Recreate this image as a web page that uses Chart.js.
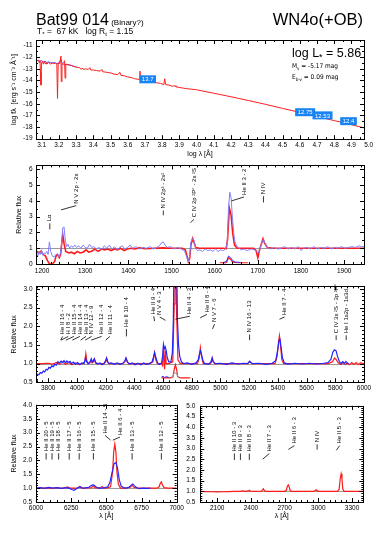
<!DOCTYPE html>
<html>
<head>
<meta charset="utf-8">
<script src="https://cdn.jsdelivr.net/npm/chart.js@4.4.1/dist/chart.umd.min.js"></script>
<style>
  body { margin: 0; background: #fff; width: 382px; height: 541px; position: relative; overflow: hidden; }
  canvas { position: absolute; }
</style>
</head>
<body>
<script>
// ---- SED panel (log lambda vs log f_lambda) ----
const sedXTicks = [3.1, 3.2, 3.3, 3.4, 3.5, 3.6, 3.7, 3.8, 3.9, 4.0, 4.1, 4.2, 4.3, 4.4, 4.5, 4.6, 4.7, 4.8, 4.9, 5.0];
const sedYTicks = [-11, -12, -13, -14, -15, -16, -17, -18, -19];
const sedModel = [
  [3.067,-12.2],[3.075,-12.3],[3.08,-12.25],[3.085,-12.45],[3.09,-12.3],[3.093,-13.3],[3.096,-14.4],[3.099,-12.5],
  [3.105,-12.35],[3.11,-12.6],[3.115,-12.4],[3.12,-12.55],[3.125,-12.45],[3.13,-12.6],[3.14,-12.45],[3.15,-12.6],
  [3.16,-12.5],[3.17,-12.55],[3.18,-12.5],[3.188,-12.6],[3.192,-15.55],[3.196,-12.5],[3.205,-12.55],[3.212,-11.9],
  [3.214,-14.1],[3.218,-12.6],[3.228,-12.45],[3.233,-12.3],[3.236,-13.8],[3.24,-12.6],[3.26,-12.65],[3.28,-12.75],
  [3.3,-12.85],[3.32,-12.9],[3.33,-13.05],[3.335,-12.95],[3.345,-13.05],[3.355,-13.0],[3.37,-13.05],[3.38,-12.9],
  [3.385,-13.1],[3.4,-13.1],[3.42,-13.15],[3.44,-13.2],[3.45,-13.05],[3.455,-13.25],[3.48,-13.3],[3.5,-13.35],
  [3.52,-13.45],[3.54,-13.5],[3.555,-13.3],[3.56,-13.55],[3.58,-13.6],[3.6,-13.7],[3.62,-13.75],[3.64,-13.85],
  [3.66,-13.9],[3.668,-13.9],[3.671,-13.2],[3.674,-13.9],[3.69,-13.95],[3.71,-14.0],[3.73,-14.05],[3.75,-14.15],
  [3.77,-14.2],[3.79,-14.25],[3.81,-14.35],[3.815,-13.85],[3.82,-14.35],[3.84,-14.4],[3.86,-14.5],[3.875,-14.45],
  [3.88,-14.55],[3.9,-14.6],[3.92,-14.65],[3.94,-14.7],[4.0,-14.8],[4.1,-15.1],[4.2,-15.4],[4.3,-15.72],
  [4.4,-16.05],[4.5,-16.4],[4.6,-16.75],[4.7,-17.1],[4.8,-17.45],[4.9,-17.8],[4.973,-18.08]
];
const sedObserved = [
  [3.067,-12.25],[3.08,-12.3],[3.09,-12.35],[3.1,-12.3],[3.11,-12.4],[3.12,-12.35],[3.13,-12.45],[3.14,-12.4],
  [3.15,-12.45],[3.16,-12.5],[3.17,-12.45],[3.18,-12.5],[3.19,-12.55],[3.2,-12.5],[3.212,-12.2],[3.22,-12.6],
  [3.23,-12.6],[3.25,-12.65],[3.27,-12.7],[3.29,-12.8],[3.3,-12.85]
];
const photX = [3.716, 4.631, 4.732, 4.883];
const photY = [-13.9, -16.73, -17.0, -17.5];
const photMag = ['13.7', '12.75', '12.53', '12.4'];

// ---- UV panel ----
const uvXTicks = [1200, 1300, 1400, 1500, 1600, 1700, 1800, 1900];
const uvYTicks = [0, 1, 2, 3, 4, 5, 6];
const uvObserved = [
  [1186,0.8],[1190,0.5],[1193,0.75],[1196,0.6],[1199,0.9],[1202,0.55],[1205,0.7],[1208,0.65],[1211,0.8],[1214,0.6],
  [1217,1.4],[1220,0.8],[1224,0.5],[1228,0.45],[1232,0.6],[1236,0.65],[1239,0.45],[1242,0.6],[1245,1.2],[1248,2.3],
  [1251,2.35],[1254,1.5],[1257,1.1],[1260,1.25],[1264,1.0],[1268,1.15],[1272,1.05],[1276,1.2],[1280,1.05],[1285,1.15],
  [1290,1.0],[1295,1.2],[1300,1.05],[1305,1.0],[1310,1.25],[1315,1.05],[1320,1.1],[1326,0.95],[1332,1.05],[1338,0.9],
  [1344,1.15],[1350,1.0],[1356,1.2],[1362,0.95],[1368,1.1],[1374,0.9],[1380,1.05],[1386,1.15],[1392,0.95],[1398,1.05],
  [1404,1.2],[1410,1.0],[1418,1.1],[1426,0.95],[1434,1.05],[1442,1.0],[1450,1.1],[1458,0.95],[1466,1.05],[1472,1.15],
  [1477,1.35],[1481,1.4],[1485,1.2],[1490,1.05],[1498,1.1],[1506,0.95],[1514,1.05],[1522,0.95],[1530,0.85],[1535,0.45],
  [1539,0.15],[1542,0.5],[1545,1.4],[1549,1.65],[1552,1.5],[1556,1.0],[1560,0.85],[1566,0.9],[1572,0.8],[1578,0.95],
  [1584,0.85],[1590,0.9],[1596,0.8],[1602,0.95],[1608,0.8],[1614,0.9],[1620,0.85],[1625,0.95],[1629,1.3],[1632,3.5],
  [1635,4.55],[1638,4.2],[1641,3.0],[1644,2.0],[1647,1.4],[1651,1.15],[1656,1.0],[1662,0.9],[1668,0.95],[1674,0.85],
  [1680,0.9],[1686,0.95],[1692,0.9],[1697,0.8],[1701,0.7],[1705,0.95],[1710,1.4],[1713,1.55],[1717,1.3],[1722,1.05],
  [1730,0.95],[1738,1.05],[1746,0.95],[1754,1.0],[1762,1.1],[1770,0.95],[1778,1.05],[1786,0.95],[1794,1.1],[1800,0.85],
  [1806,1.0],[1814,1.05],[1822,0.95],[1830,1.1],[1838,0.95],[1846,1.05],[1854,1.0],[1862,1.1],[1870,0.95],[1878,1.05],
  [1886,1.0],[1894,1.1],[1902,1.0],[1910,1.05],[1918,1.1],[1926,1.05],[1934,1.15],[1940,1.1],[1946,1.1]
];
const uvModel = [
  [1186,0.85],[1192,0.7],[1197,0.8],[1203,0.6],[1208,0.5],[1213,0.2],[1217,0.02],[1224,0.0],[1229,0.15],[1233,0.55],
  [1236,0.6],[1240,0.4],[1243,0.6],[1246,1.4],[1248,1.85],[1251,1.3],[1255,0.8],[1262,0.7],[1268,0.75],[1275,0.65],
  [1282,0.8],[1288,0.7],[1295,0.75],[1302,0.9],[1308,0.75],[1315,0.8],[1322,0.95],[1330,0.8],[1338,0.95],[1345,0.9],
  [1352,0.95],[1360,0.85],[1368,0.95],[1375,0.9],[1382,1.0],[1390,0.85],[1398,0.95],[1405,1.0],[1415,0.95],[1425,1.02],
  [1440,0.97],[1460,1.0],[1480,1.02],[1500,1.0],[1525,1.0],[1532,0.9],[1536,0.5],[1539,0.15],[1542,0.35],[1545,1.2],
  [1549,1.62],[1552,1.4],[1556,1.05],[1565,1.0],[1620,1.0],[1627,0.97],[1630,1.6],[1634,3.55],[1638,3.1],[1642,1.9],
  [1646,1.2],[1652,1.0],[1690,1.0],[1696,0.85],[1700,0.4],[1704,0.9],[1712,1.6],[1716,1.3],[1722,1.05],[1735,1.0],
  [1946,1.0]
];
const uvInsetModel = [[1612,0.08],[1625,0.08],[1628,0.12],[1632,0.4],[1637,0.3],[1641,0.15],[1646,0.1],[1660,0.08],[1677,0.08]];
const uvInsetObserved = [[1620,0.1],[1627,0.15],[1632,0.5],[1637,0.4],[1642,0.2],[1648,0.12],[1660,0.1]];
const uvLineX = [1218, 1244, 1481, 1544, 1639, 1713];
const uvTextX = [1218, 1279, 1481, 1552, 1668, 1713];
const uvLineY = [2.2, 3.43, 3.09, 2.62, 4.0, 3.9];
const uvTextY = [2.58, 3.7, 3.39, 2.83, 4.25, 4.3];
const uvNames = ['Lα', 'N V 2p - 2s', 'N IV 2p³ - 2s²', 'C IV 2p ²P° - 2s ²S', 'He II 3 - 2', 'N IV'];

// ---- optical panel ----
const optXTicks = [3800, 4000, 4200, 4400, 4600, 4800, 5000, 5200, 5400, 5600, 5800, 6000];
const optYTicks = [0.5, 1.0, 1.5, 2.0, 2.5, 3.0];
const optObserved = [
  [3715,0.69],[3725,0.72],[3735,0.7],[3745,0.76],[3755,0.74],[3766,0.8],[3776,0.78],[3786,0.85],[3795,0.83],[3805,0.9],
  [3815,0.88],[3825,0.94],[3835,0.92],[3847,0.98],[3857,0.96],[3868,1.05],[3878,1.02],[3890,1.07],[3900,1.03],[3910,1.08],
  [3920,1.02],[3930,1.07],[3940,1.03],[3952,1.06],[3962,1.0],[3975,1.04],[3990,0.98],[4005,1.03],[4020,0.97],[4035,1.02],
  [4050,1.0],[4060,1.15],[4068,1.05],[4080,1.0],[4092,1.05],[4100,1.13],[4106,1.05],[4114,1.08],[4121,1.13],[4130,1.03],
  [4145,0.99],[4160,1.02],[4175,0.97],[4190,1.01],[4200,1.08],[4207,1.15],[4215,1.05],[4225,1.0],[4240,1.02],[4260,0.98],
  [4280,1.02],[4300,0.98],[4320,1.01],[4333,1.07],[4342,1.15],[4352,1.05],[4365,0.99],[4385,1.02],[4405,0.97],[4425,1.01],
  [4445,0.97],[4465,1.02],[4485,0.98],[4505,1.0],[4522,1.03],[4532,1.15],[4541,1.3],[4551,1.15],[4562,1.02],[4575,0.98],
  [4590,1.02],[4597,1.2],[4603,1.52],[4609,1.4],[4615,1.45],[4622,1.35],[4630,1.15],[4640,1.05],[4655,1.05],[4665,1.3],
  [4672,2.2],[4678,4.5],[4688,5.0],[4695,4.0],[4700,2.2],[4708,1.5],[4716,1.2],[4728,1.05],[4745,1.0],[4770,1.02],
  [4800,0.98],[4830,1.02],[4845,1.1],[4853,1.25],[4860,1.35],[4868,1.25],[4878,1.08],[4890,1.0],[4915,0.99],[4932,1.03],
  [4942,1.15],[4950,1.05],[4965,1.0],[5000,1.01],[5040,0.98],[5080,1.02],[5120,0.99],[5160,1.01],[5190,1.0],[5197,1.04],
  [5204,1.06],[5212,1.03],[5225,1.0],[5270,1.01],[5320,0.98],[5360,1.01],[5385,1.08],[5398,1.35],[5408,1.62],[5415,1.65],
  [5422,1.45],[5432,1.15],[5445,1.02],[5470,0.99],[5520,1.01],[5570,0.99],[5620,1.01],[5670,0.99],[5720,1.01],[5750,1.03],
  [5770,1.12],[5782,1.3],[5793,1.37],[5805,1.35],[5815,1.2],[5828,1.05],[5840,1.0],[5851,1.05],[5862,1.0],[5874,1.06],
  [5885,1.01],[5895,1.0]
];
const optModel = [
  [3715,1.0],[3760,1.0],[3800,1.01],[3830,0.99],[3860,1.03],[3880,0.98],[3900,1.04],[3920,0.98],[3945,1.03],[3965,0.97],
  [3990,1.02],[4010,0.99],[4040,1.0],[4055,1.05],[4062,1.27],[4068,1.1],[4075,1.0],[4090,1.02],[4100,1.1],[4106,1.02],
  [4115,1.05],[4122,1.12],[4130,1.02],[4150,1.0],[4190,1.0],[4200,1.05],[4206,1.15],[4212,1.05],[4222,1.0],[4320,1.0],
  [4335,1.05],[4342,1.15],[4350,1.05],[4360,1.0],[4500,1.0],[4530,1.05],[4541,1.3],[4550,1.1],[4560,1.0],[4590,1.0],
  [4597,0.95],[4603,1.45],[4607,1.1],[4611,0.85],[4616,1.35],[4622,1.0],[4640,1.0],[4668,1.05],[4678,2.6],[4683,4.0],
  [4689,4.0],[4694,2.4],[4704,1.1],[4720,1.0],[4840,1.0],[4852,1.15],[4860,1.43],[4868,1.2],[4880,1.0],[4930,1.0],
  [4938,1.05],[4943,1.15],[4949,1.05],[4960,1.0],[5190,1.0],[5197,1.03],[5203,1.06],[5210,1.03],[5220,1.0],[5380,1.0],
  [5395,1.2],[5405,1.6],[5411,1.75],[5418,1.5],[5428,1.1],[5440,1.0],[5750,1.0],[5780,1.05],[5795,1.15],[5808,1.1],
  [5820,1.02],[5840,0.98],[5855,1.04],[5870,0.98],[5885,1.02],[5900,0.97],[5915,1.03],[5930,0.98],[5945,1.03],[5960,0.97],
  [5975,1.02],[6000,1.0]
];
const optInsetModel = [[4590,0.62],[4650,0.62],[4670,0.65],[4678,0.85],[4686,0.97],[4694,0.85],[4702,0.65],[4720,0.62],[4790,0.62]];
const optInsetObserved = [[4590,0.64],[4600,0.66],[4610,0.63],[4625,0.65],[4640,0.63]];
const optInsetGrey = [[4660,0.62],[4680,0.75],[4690,0.75],[4710,0.62]];
const optLineX = [3887, 3889, 3923, 3968, 4026, 4058, 4100, 4200, 4345, 4541, 4617, 4686, 4859, 4945, 5203, 5411, 5806, 5876];
const optTextX = [3901, 3940, 3979, 4021, 4063, 4102, 4172, 4230, 4345, 4535, 4577, 4786, 4906, 4959, 5203, 5447, 5806, 5876];
const optLineY = [1.63, 1.63, 1.63, 1.63, 1.63, 1.63, 1.63, 1.63, 1.73, 2.14, 2.16, 2.19, 2.23, 1.93, 1.63, 2.19, 1.63, 1.63];
const optTextY = [1.73, 1.73, 1.73, 1.73, 1.73, 1.73, 1.73, 1.73, 1.93, 2.27, 2.25, 2.27, 2.32, 2.06, 1.78, 2.25, 1.76, 1.76];
const optNames = ['He II 16 - 4', 'H I 8 - 2', 'He II 15 - 4', 'He II 14 - 4', 'He II 13 - 4', 'N IV 12 - 9',
  'He II 12 - 4', 'He II 11 - 4', 'He II 10 - 4', 'He II 9 - 4', 'N V 4 - 3', 'He II 4 - 3', 'He II 8 - 4',
  'N V 7 - 6', 'N IV 16 - 13', 'He II 7 - 4', 'C IV 3s ²S - 3p ²P°', 'He I 1s2p - 1s3d'];

// ---- red panel ----
const redXTicks = [6000, 6250, 6500, 6750, 7000];
const redYTicks = [0.5, 1.0, 1.5, 2.0, 2.5, 3.0, 3.5, 4.0];
const redObserved = [
  [6000,1.0],[6030,1.02],[6060,0.99],[6090,1.03],[6120,1.0],[6150,1.02],[6180,0.99],[6210,1.02],[6235,1.0],[6255,0.95],
  [6270,0.92],[6285,0.97],[6300,1.02],[6315,1.05],[6330,1.0],[6350,1.01],[6375,1.03],[6395,1.1],[6410,1.12],[6425,1.05],
  [6445,1.0],[6470,1.0],[6490,1.02],[6510,1.05],[6525,1.2],[6540,1.55],[6555,1.88],[6568,1.92],[6580,1.7],[6592,1.3],
  [6605,1.08],[6620,1.02],[6640,1.0],[6660,1.03],[6675,1.1],[6688,1.15],[6700,1.08],[6715,1.02],[6735,0.98],[6760,1.0],
  [6790,0.99],[6813,1.0]
];
const redModel = [
  [6000,1.0],[6040,1.0],[6080,1.01],[6120,1.0],[6150,1.02],[6170,1.0],[6200,1.0],[6225,1.04],[6240,1.0],[6290,1.0],
  [6305,1.03],[6311,1.06],[6318,1.02],[6340,1.0],[6395,1.02],[6406,1.08],[6418,1.02],[6445,1.0],[6462,1.03],[6470,1.06],
  [6478,1.02],[6500,1.0],[6530,1.05],[6545,1.6],[6552,2.3],[6560,2.58],[6568,2.3],[6575,1.6],[6585,1.15],[6600,1.0],
  [6640,1.0],[6670,1.03],[6683,1.1],[6695,1.03],[6720,1.0],[6860,1.0],[6875,1.05],[6884,1.18],[6891,1.22],[6898,1.12],
  [6910,1.02],[6940,1.0],[7000,1.0]
];
const redLineX = [6072, 6114, 6161, 6236, 6307, 6408, 6530, 6546, 6683, 6891];
const redTextX = [6072, 6114, 6161, 6236, 6307, 6408, 6491, 6597, 6683, 6891];
const redLineY = [2.03, 2.03, 2.03, 2.03, 2.03, 2.03, 2.73, 2.73, 2.03, 2.03];
const redTextY = [2.26, 2.26, 2.26, 2.26, 2.26, 2.26, 2.9, 2.84, 2.26, 2.26];
const redNames = ['He II 20 - 5', 'He II 19 - 5', 'He II 18 - 5', 'He II 17 - 5', 'He II 16 - 5', 'He II 15 - 5',
  'He II 14 - 5', 'He II 6 - 4', 'He II 13 - 5', 'He II 12 - 5'];

// ---- near-UV panel ----
const nuvXTicks = [2100, 2400, 2700, 3000, 3300];
const nuvYTicks = [0.5, 1.0, 1.5, 2.0, 2.5, 3.0, 3.5, 4.0, 4.5, 5.0];
const nuvModel = [
  [1950,1.0],[2000,0.99],[2050,0.98],[2100,0.97],[2150,0.98],[2200,0.99],[2250,1.0],[2300,1.0],[2330,1.02],[2345,1.0],
  [2380,1.02],[2388,1.05],[2396,1.01],[2440,1.0],[2495,1.01],[2505,1.08],[2511,1.12],[2518,1.06],[2528,1.0],[2700,1.0],
  [2715,1.05],[2725,1.25],[2733,1.3],[2741,1.2],[2750,1.03],[2765,1.0],[2960,1.0],[2972,1.04],[2981,1.07],[2990,1.03],
  [3005,1.0],[3170,1.0],[3185,1.1],[3195,1.6],[3203,1.82],[3210,1.6],[3218,1.1],[3230,1.0],[3400,1.0]
];
const nuvLineX = [2253, 2307, 2386, 2506, 2733, 2989, 3160];
const nuvTextX = [2253, 2307, 2386, 2564, 2787, 2989, 3190];
const nuvLineY = [2.47, 2.47, 2.47, 2.51, 2.96, 2.95, 2.92];
const nuvTextY = [2.77, 2.77, 2.77, 2.77, 3.14, 3.2, 3.14];
const nuvNames = ['He II 10 - 3', 'He II 9 - 3', 'He II 8 - 3', 'He II 7 - 3', 'He II 6 - 3', 'N IV', 'He II 5 - 3'];

const FONT = "'Liberation Sans', Arial, sans-serif";
const COND = "'DejaVu Sans Condensed', 'Liberation Sans', sans-serif";
Chart.defaults.font.family = FONT;
Chart.defaults.color = '#000';

const pts = arr => arr.map(p => ({ x: p[0], y: p[1] }));
const labelList = (lx, tx, ly, ty, names) => names.map((t, i) => ({ lx: lx[i], tx: tx[i], ly: ly[i], ty: ty[i], text: t }));

// frame with inward ticks, unity line, line labels, photometry boxes, free texts
const framePlugin = {
    id: 'frame',
    beforeDatasetsDraw(chart, args, o) {
        if (!o.unity) return;
        const { ctx, chartArea: a, scales: { y } } = chart;
        const py = Math.round(y.getPixelForValue(1)) + 0.5;
        ctx.save();
        ctx.strokeStyle = '#9a9a9a';
        ctx.lineWidth = 1;
        ctx.beginPath(); ctx.moveTo(a.left, py); ctx.lineTo(a.right, py); ctx.stroke();
        ctx.restore();
    },
    afterDatasetsDraw(chart, args, o) {
        const { ctx, chartArea: a, scales: { x, y } } = chart;
        const steps = (scale, step) => {
            const out = [];
            for (let i = Math.ceil(scale.min / step - 1e-6); i * step <= scale.max + 1e-9; i++) out.push(i * step);
            return out;
        };
        ctx.save();
        ctx.strokeStyle = '#000';
        ctx.lineWidth = 1;
        ctx.beginPath();
        const xTick = (v, len) => {
            const px = Math.round(x.getPixelForValue(v)) + 0.5;
            ctx.moveTo(px, a.bottom); ctx.lineTo(px, a.bottom - len);
            ctx.moveTo(px, a.top); ctx.lineTo(px, a.top + len);
        };
        const yTick = (v, len) => {
            const py = Math.round(y.getPixelForValue(v)) + 0.5;
            ctx.moveTo(a.left, py); ctx.lineTo(a.left + len, py);
            ctx.moveTo(a.right, py); ctx.lineTo(a.right - len, py);
        };
        steps(x, o.minorX).forEach(v => xTick(v, 2));
        steps(y, o.minorY).forEach(v => yTick(v, 2));
        x.ticks.forEach(t => { if (t.value >= x.min && t.value <= x.max) xTick(t.value, 4); });
        y.ticks.forEach(t => { if (t.value >= y.min && t.value <= y.max) yTick(t.value, 4); });
        ctx.stroke();
        ctx.strokeRect(Math.round(a.left) + 0.5, Math.round(a.top) + 0.5, Math.round(a.right - a.left), Math.round(a.bottom - a.top));

        // line identifications
        ctx.lineWidth = 0.8;
        ctx.fillStyle = '#000';
        ctx.font = '6px ' + FONT;
        (o.labels || []).forEach(l => {
            const x0 = x.getPixelForValue(l.lx), y0 = y.getPixelForValue(l.ly);
            const x1 = x.getPixelForValue(l.tx), y1 = y.getPixelForValue(l.ty);
            ctx.beginPath(); ctx.moveTo(x0, y0); ctx.lineTo(x1, y1); ctx.stroke();
            ctx.save();
            ctx.translate(x1, y1 - 2);
            ctx.rotate(-Math.PI / 2);
            ctx.textAlign = 'left';
            ctx.textBaseline = 'middle';
            ctx.fillText(l.text, 0, 0);
            ctx.restore();
        });

        // photometry boxes
        (o.boxes || []).forEach(b => {
            const px = x.getPixelForValue(b.x), py = y.getPixelForValue(b.y);
            ctx.font = '6px ' + FONT;
            const w = ctx.measureText(b.text).width + 5;
            ctx.fillStyle = '#1784f2';
            ctx.fillRect(px - w / 2, py - 4, w, 8);
            ctx.fillStyle = '#fff';
            ctx.textAlign = 'center';
            ctx.textBaseline = 'middle';
            ctx.fillText(b.text, px, py + 0.5);
        });

        // rich texts (title, parameters)
        (o.texts || []).forEach(t => {
            ctx.textAlign = 'left';
            ctx.textBaseline = 'alphabetic';
            ctx.fillStyle = '#000';
            let total = 0;
            t.parts.forEach(p => { ctx.font = p[1] + 'px ' + (t.family || FONT); total += ctx.measureText(p[0]).width; });
            let cx = t.align === 'right' ? t.x - total : t.x;
            t.parts.forEach(p => {
                ctx.font = p[1] + 'px ' + (t.family || FONT);
                ctx.fillText(p[0], cx, t.y + (p[2] || 0));
                cx += ctx.measureText(p[0]).width;
            });
        });
        ctx.restore();
    }
};

function makePanel(p) {
    const c = document.createElement('canvas');
    c.width = p.w; c.height = p.h;
    c.style.left = p.left + 'px';
    c.style.top = p.top + 'px';
    document.body.appendChild(c);
    const tickFont = { size: p.tickSize || 6.5 };
    new Chart(c, {
        type: 'line',
        data: { datasets: p.datasets },
        plugins: [framePlugin],
        options: {
            responsive: false,
            animation: false,
            events: [],
            layout: { padding: { left: p.padL, right: p.padR, top: p.padT, bottom: p.padB || 0 } },
            elements: { point: { radius: 0 }, line: { tension: 0 } },
            plugins: {
                legend: { display: false },
                tooltip: { enabled: false },
                frame: p.frame
            },
            scales: {
                x: {
                    type: 'linear', min: p.xMin, max: p.xMax,
                    grid: { display: false, drawTicks: false }, border: { display: false },
                    ticks: { font: tickFont, autoSkip: false, maxRotation: 0, padding: p.xPad, callback: p.xFmt },
                    afterBuildTicks: s => { s.ticks = p.xTicks.map(v => ({ value: v })); },
                    afterFit: s => { s.height = p.xH; },
                    title: { display: !!p.xTitle, text: p.xTitle, font: { size: 7 }, padding: { top: 0, bottom: p.xTitlePad || 0 } }
                },
                y: {
                    type: 'linear', min: p.yMin, max: p.yMax,
                    grid: { display: false, drawTicks: false }, border: { display: false },
                    ticks: { font: tickFont, autoSkip: false, padding: p.yPad, callback: p.yFmt },
                    afterBuildTicks: s => { s.ticks = p.yTicks.map(v => ({ value: v })); },
                    afterFit: s => { s.width = p.yW; },
                    title: { display: !!p.yTitle, text: p.yTitle, font: { size: 7 }, padding: { top: p.yTitlePad || 0, bottom: 0 } }
                }
            }
        }
    });
}

const blueLine = (data, color, w) => ({ data: pts(data), borderColor: color, borderWidth: w, fill: false });
const fix1 = v => v.toFixed(1);
const plain = v => String(v);

// top: spectral energy distribution
makePanel({
    left: 0, top: 0, w: 382, h: 160, padL: 4, padR: 18, padT: 40, padB: 1.5,
    xMin: 3.067, xMax: 4.973, yMin: -19.05, yMax: -10.52, xTicks: sedXTicks, yTicks: sedYTicks,
    xH: 19.3, yW: 32, xPad: 2.5, yPad: 3.5, xFmt: fix1, yFmt: plain,
    xTitle: 'log λ [Å]', yTitle: 'log fλ  [erg s⁻¹ cm⁻² Å⁻¹]', yTitlePad: 6,
    datasets: [blueLine(sedModel, '#ff2020', 1), blueLine(sedObserved, '#4b4bff', 1)],
    frame: {
        minorX: 0.05, minorY: 0.5,
        boxes: photMag.map((t, i) => ({ x: photX[i], y: photY[i], text: t })),
        texts: [
            { x: 36, y: 25, parts: [['Bat99 014', 16], [' (Binary?)', 8]] },
            { x: 363, y: 25, align: 'right', parts: [['WN4o(+OB)', 16.5]] },
            { x: 37, y: 34, parts: [['T', 8.5], ['*', 6, 2], [' =  67 kK   log R', 8.5], ['t', 6, 2], [' = 1.15', 8.5]] },
            { x: 292, y: 57, parts: [['log L', 12.5], ['*', 9, 3], [' = 5.86', 12.5]] },
            { x: 292, y: 68, family: COND, parts: [['M', 6.5], ['v', 4.5, 1.5], [' = -5.17 mag', 6.5]] },
            { x: 292, y: 79, family: COND, parts: [['E', 6.5], ['b-v', 4.5, 1.5], [' = 0.09 mag', 6.5]] }
        ]
    }
});

// UV
makePanel({
    left: 0, top: 158, w: 382, h: 118, padL: 4, padR: 18, padT: 3.7,
    xMin: 1186, xMax: 1946, yMin: 0, yMax: 6.25, xTicks: uvXTicks, yTicks: uvYTicks,
    xH: 12, yW: 32, xPad: 3, yPad: 3.5, xFmt: plain, yFmt: plain,
    yTitle: 'Relative flux', yTitlePad: 11,
    datasets: [
        blueLine(uvObserved, '#8080ff', 1), blueLine(uvModel, '#ff1a1a', 1.6),
        blueLine(uvInsetObserved, '#3a3aff', 1), blueLine(uvInsetModel, '#ff1a1a', 1.2)
    ],
    frame: { minorX: 20, minorY: 0.5, unity: true, labels: labelList(uvLineX, uvTextX, uvLineY, uvTextY, uvNames) }
});

// optical
makePanel({
    left: 0, top: 279, w: 382, h: 116, padL: 4, padR: 18, padT: 3.3,
    xMin: 3715, xMax: 6000, yMin: 0.5, yMax: 3.07, xTicks: optXTicks, yTicks: optYTicks,
    xH: 12.7, yW: 32, xPad: 2.2, yPad: 3.5, xFmt: plain, yFmt: fix1,
    yTitle: 'Relative flux', yTitlePad: 6,
    datasets: [
        blueLine(optObserved, '#2424ff', 1.2), blueLine(optModel, '#ff1a1a', 1.2),
        blueLine(optInsetGrey, '#9a9a9a', 1), blueLine(optInsetObserved, '#2424ff', 1), blueLine(optInsetModel, '#ff1a1a', 1.2)
    ],
    frame: { minorX: 40, minorY: 0.1, unity: true, labels: labelList(optLineX, optTextX, optLineY, optTextY, optNames) }
});

// red
makePanel({
    left: 0, top: 397, w: 190, h: 123, padL: 4, padR: 13.3, padT: 4.2,
    xMin: 6000, xMax: 7000, yMin: 0.5, yMax: 4.0, xTicks: redXTicks, yTicks: redYTicks,
    xH: 18, yW: 32, xPad: 2, yPad: 4, xFmt: plain, yFmt: fix1,
    xTitle: 'λ [Å]', yTitle: 'Relative flux', yTitlePad: 6,
    datasets: [blueLine(redObserved, '#2626ff', 1.2), blueLine(redModel, '#ff1a1a', 1.2)],
    frame: { minorX: 50, minorY: 0.1, unity: true, labels: labelList(redLineX, redTextX, redLineY, redTextY, redNames) }
});

// near UV
makePanel({
    left: 177, top: 397, w: 205, h: 123, padL: 0, padR: 18.7, padT: 4.2,
    xMin: 1950, xMax: 3400, yMin: 0.5, yMax: 5.0, xTicks: nuvXTicks, yTicks: nuvYTicks,
    xH: 18, yW: 23.3, xPad: 2, yPad: 5, xFmt: plain, yFmt: fix1,
    xTitle: 'λ [Å]',
    datasets: [blueLine(nuvModel, '#ff1a1a', 1.2)],
    frame: { minorX: 50, minorY: 0.1, unity: true, labels: labelList(nuvLineX, nuvTextX, nuvLineY, nuvTextY, nuvNames) }
});
</script>
</body>
</html>
